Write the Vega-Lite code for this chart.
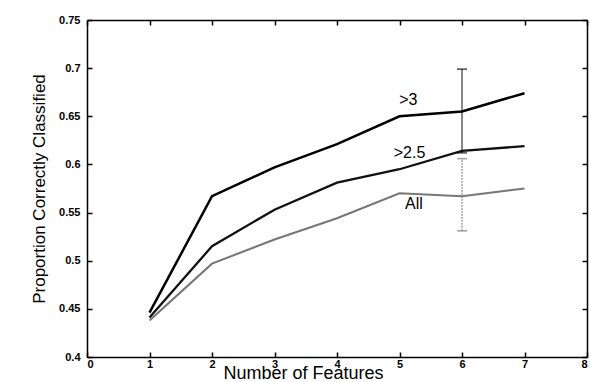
{
  "$schema": "https://vega.github.io/schema/vega-lite/v6.json",
  "width": 500,
  "height": 337,
  "autosize": "none",
  "padding": {"left": 87, "top": 20, "right": 3, "bottom": 25},
  "config": {
    "font": "Liberation Sans",
    "view": {"stroke": null},
    "axis": {
      "grid": false,
      "domainColor": "black",
      "domainWidth": 1.5,
      "tickColor": "black",
      "tickWidth": 1.5,
      "tickSize": -5,
      "labelColor": "black",
      "labelFont": "Liberation Sans",
      "labelFontWeight": "bold",
      "labelFontSize": 11,
      "titleFont": "Liberation Sans",
      "titleFontWeight": "normal",
      "titleColor": "black",
      "titleFontSize": 17
    }
  },
  "datasets": {
    "lines": [
      {"features": 1, "proportion": 0.446, "series": ">3"},
      {"features": 2, "proportion": 0.567, "series": ">3"},
      {"features": 3, "proportion": 0.597, "series": ">3"},
      {"features": 4, "proportion": 0.621, "series": ">3"},
      {"features": 5, "proportion": 0.650, "series": ">3"},
      {"features": 6, "proportion": 0.655, "series": ">3"},
      {"features": 7, "proportion": 0.674, "series": ">3"},
      {"features": 1, "proportion": 0.441, "series": ">2.5"},
      {"features": 2, "proportion": 0.515, "series": ">2.5"},
      {"features": 3, "proportion": 0.553, "series": ">2.5"},
      {"features": 4, "proportion": 0.581, "series": ">2.5"},
      {"features": 5, "proportion": 0.595, "series": ">2.5"},
      {"features": 6, "proportion": 0.614, "series": ">2.5"},
      {"features": 7, "proportion": 0.619, "series": ">2.5"},
      {"features": 1, "proportion": 0.438, "series": "All"},
      {"features": 2, "proportion": 0.497, "series": "All"},
      {"features": 3, "proportion": 0.522, "series": "All"},
      {"features": 4, "proportion": 0.544, "series": "All"},
      {"features": 5, "proportion": 0.570, "series": "All"},
      {"features": 6, "proportion": 0.567, "series": "All"},
      {"features": 7, "proportion": 0.575, "series": "All"}
    ],
    "errors": [
      {"features": 6, "low": 0.612, "high": 0.699, "series": ">3"},
      {"features": 6, "low": 0.531, "high": 0.606, "series": "All"}
    ],
    "labels": [
      {"features": 5.14, "proportion": 0.667, "label": ">3"},
      {"features": 5.16, "proportion": 0.612, "label": ">2.5"},
      {"features": 5.23, "proportion": 0.559, "label": "All"}
    ]
  },
  "layer": [
    {
      "data": {"name": "lines"},
      "mark": {"type": "line"},
      "encoding": {
        "x": {
          "field": "features", "type": "quantitative",
          "scale": {"domain": [0, 8], "nice": false, "zero": false},
          "axis": {"values": [0,1,2,3,4,5,6,7,8], "title": "Number of Features", "titleFontSize": 18, "labelPadding": 6, "titleX": 216, "titleY": 21, "titleBaseline": "alphabetic"}
        },
        "y": {
          "field": "proportion", "type": "quantitative",
          "scale": {"domain": [0.4, 0.75], "nice": false, "zero": false},
          "axis": {"values": [0.4,0.45,0.5,0.55,0.6,0.65,0.7,0.75], "format": "~g", "title": "Proportion Correctly Classified", "labelPadding": 12, "titlePadding": 10}
        },
        "detail": {"field": "series"},
        "color": {"field": "series", "type": "nominal", "scale": {"domain": [">3", ">2.5", "All"], "range": ["#000000", "#111111", "#777777"]}, "legend": null},
        "strokeWidth": {"field": "series", "type": "nominal", "scale": {"domain": [">3", ">2.5", "All"], "range": [2.5, 2.1, 1.6]}, "legend": null}
      }
    },
    {
      "data": {"name": "errors"},
      "mark": {"type": "rule"},
      "encoding": {
        "x": {"field": "features", "type": "quantitative", "axis": null},
        "y": {"field": "low", "type": "quantitative", "axis": null},
        "y2": {"field": "high"},
        "color": {"field": "series", "type": "nominal", "scale": {"domain": [">3", ">2.5", "All"], "range": ["#000000", "#111111", "#777777"]}, "legend": null},
        "strokeDash": {"field": "series", "type": "nominal", "scale": {"domain": [">3", "All"], "range": [[1, 0], [2, 1]]}, "legend": null}
      }
    },
    {
      "data": {"name": "errors"},
      "mark": {"type": "tick", "orient": "horizontal", "size": 10, "thickness": 1.5},
      "encoding": {
        "x": {"field": "features", "type": "quantitative", "axis": null},
        "y": {"field": "low", "type": "quantitative", "axis": null},
        "color": {"field": "series", "type": "nominal", "scale": {"domain": [">3", ">2.5", "All"], "range": ["#000000", "#111111", "#777777"]}, "legend": null}
      }
    },
    {
      "data": {"name": "errors"},
      "mark": {"type": "tick", "orient": "horizontal", "size": 10, "thickness": 1.5},
      "encoding": {
        "x": {"field": "features", "type": "quantitative", "axis": null},
        "y": {"field": "high", "type": "quantitative", "axis": null},
        "color": {"field": "series", "type": "nominal", "scale": {"domain": [">3", ">2.5", "All"], "range": ["#000000", "#111111", "#777777"]}, "legend": null}
      }
    },
    {
      "data": {"name": "labels"},
      "mark": {"type": "text", "fontSize": 16, "font": "Liberation Sans", "color": "black", "align": "center", "baseline": "middle"},
      "encoding": {
        "x": {"field": "features", "type": "quantitative", "axis": null},
        "y": {"field": "proportion", "type": "quantitative", "axis": null},
        "text": {"field": "label"}
      }
    },
    {
      "data": {"name": "labels"},
      "mark": {"type": "point", "opacity": 0},
      "encoding": {
        "x": {"field": "features", "type": "quantitative", "axis": {"orient": "top", "values": [0,1,2,3,4,5,6,7,8], "labels": false, "title": null}},
        "y": {"field": "proportion", "type": "quantitative", "axis": {"orient": "right", "values": [0.4,0.45,0.5,0.55,0.6,0.65,0.7,0.75], "labels": false, "title": null}}
      }
    }
  ],
  "resolve": {"axis": {"x": "independent", "y": "independent"}}
}
